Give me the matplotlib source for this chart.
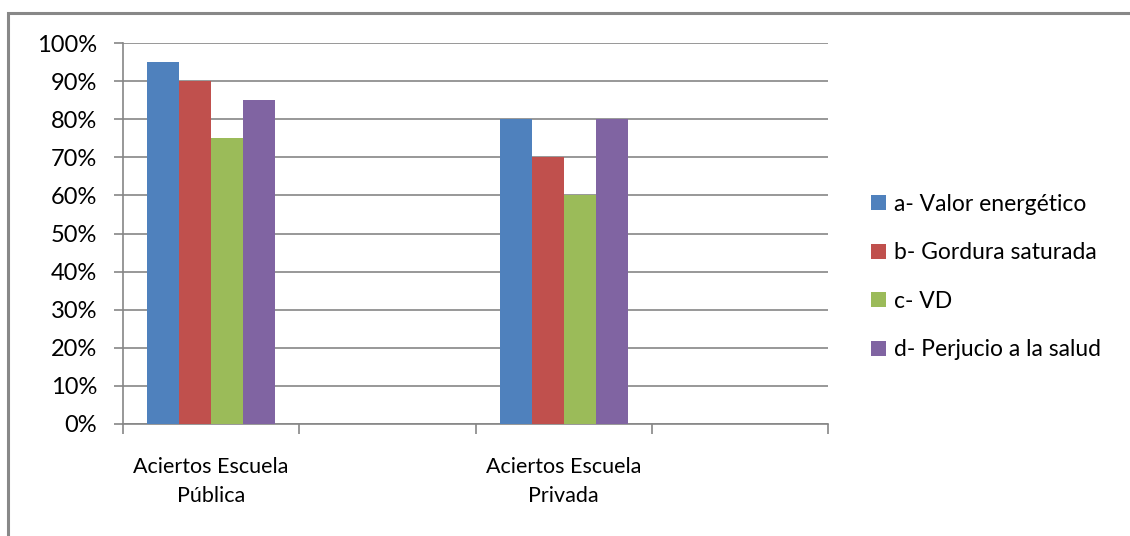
import matplotlib
matplotlib.use("Agg")
import matplotlib.pyplot as plt
from matplotlib.patches import Rectangle
from matplotlib.ticker import FixedLocator, PercentFormatter
import numpy as np

categories = ["Aciertos Escuela\nPública", "", "Aciertos Escuela\nPrivada", ""]
series_names = ["a- Valor energético", "b- Gordura saturada", "c- VD", "d- Perjucio a la salud"]
valor_energetico = [95, None, 80, None]
gordura_saturada = [90, None, 70, None]
vd = [75, None, 60, None]
perjucio = [85, None, 80, None]
series = [valor_energetico, gordura_saturada, vd, perjucio]
colors = ["#4F81BD", "#C0504D", "#9BBB59", "#8064A2"]
yticks = [0, 10, 20, 30, 40, 50, 60, 70, 80, 90, 100]

plt.rcParams['font.family'] = ['Lato', 'DejaVu Sans']
W, H = 1130, 536
fig = plt.figure(figsize=(W / 100, H / 100), dpi=100)
fig.patches.append(Rectangle((8 / W, -0.01), 1.1, (H - 13) / H + 0.01, transform=fig.transFigure,
                             fill=False, edgecolor="#888888", linewidth=2.2))

ax = fig.add_axes([123 / W, 112 / H, (828 - 123) / W, (424 - 43) / H])
n = len(categories)
x = np.arange(n)
bw = 32 / 176
for i, (s, c, name) in enumerate(zip(series, colors, series_names)):
    xs = [xi for xi, v in zip(x, s) if v is not None]
    vs = [v for v in s if v is not None]
    ax.bar(np.array(xs) + (i - 1.5) * bw, vs, width=bw, color=c, label=name, zorder=3)

ax.set_xlim(-0.5, n - 0.5)
ax.set_ylim(0, 100)
ax.yaxis.set_major_locator(FixedLocator(yticks))
ax.yaxis.set_major_formatter(PercentFormatter(decimals=0))
ax.grid(axis="y", color="#868686", linewidth=1.2, zorder=0)
ax.set_xticks(np.arange(n + 1) - 0.5)
ax.set_xticklabels([])
ax.set_xticks(x, minor=True)
ax.set_xticklabels(categories, minor=True, fontsize=15.5, linespacing=1.55)
ax.tick_params(axis="x", which="minor", length=0, pad=24)
ax.tick_params(axis="x", which="major", length=7, width=1.2, color="#868686", direction="out")
ax.tick_params(axis="y", length=6.5, width=1.2, color="#868686", labelsize=17, pad=12)
for side in ["top", "right"]:
    ax.spines[side].set_visible(False)
for side in ["left", "bottom"]:
    ax.spines[side].set_color("#868686")
    ax.spines[side].set_linewidth(1.2)

leg = fig.legend(loc="center left", bbox_to_anchor=(850 / W, (H - 277) / H), frameon=False,
                 fontsize=16.5, handlelength=0.65, handleheight=0.65, handletextpad=0.35,
                 labelspacing=1.2)

fig.savefig("out.png", dpi=100)
